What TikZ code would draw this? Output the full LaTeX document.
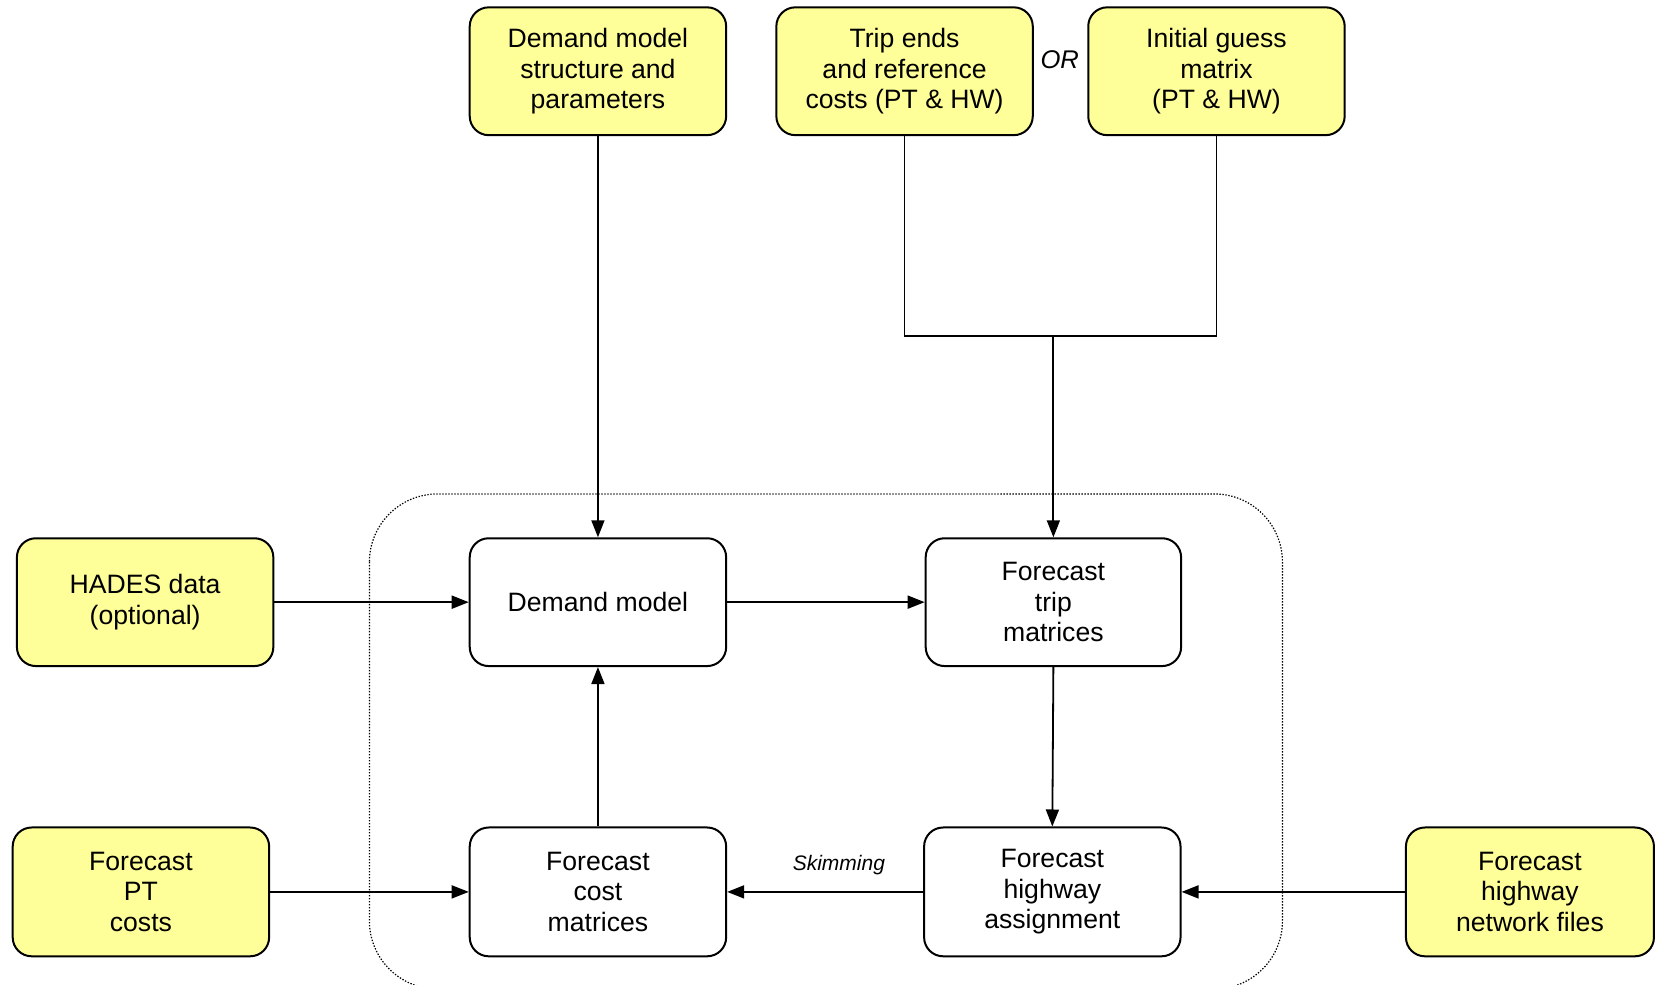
\documentclass[tikz,border=0pt]{standalone}
\usepackage{fontspec}
\setmainfont{Liberation Sans}
\usetikzlibrary{arrows.meta}
\definecolor{boxyellow}{RGB}{255,255,153}
\tikzset{
  basebox/.style={draw=black, line width=1pt, rounded corners=9.5pt, inner sep=0pt,
    minimum width=128.2pt, minimum height=63.9pt, align=center,
    font=\fontsize{13.3pt}{15.3pt}\selectfont},
  ybox/.style={basebox, fill=boxyellow},
  wbox/.style={basebox, fill=white},
  conn/.style={draw=black, line width=0.9pt},
  arr/.style={conn, -{Triangle[length=8.5pt,width=6.5pt]}},
  lbl/.style={font=\fontsize{10.5pt}{12pt}\selectfont\itshape, inner sep=0pt}
}
\begin{document}
\begin{tikzpicture}[x=0.5277pt, y=-0.5277pt]
\useasboundingbox (0,0) rectangle (1568,933);
% dotted enclosure
\draw[line width=0.6pt, dash pattern=on 0.7pt off 0.8pt, rounded corners=34pt] (350,468) rectangle (1215,937);
% top inputs
\node[ybox] (dms) at (566.5,67.5) {Demand model\\structure and\\parameters};
\node[ybox] (te) at (857,67.5) {Trip ends\\and reference\\costs (PT \& HW)};
\node[ybox] (ig) at (1152.5,67.5) {Initial guess\\matrix\\(PT \& HW)};
\node[font=\fontsize{12.8pt}{14pt}\selectfont\itshape, inner sep=0pt] (or) at (1004,57) {OR};
% middle row
\node[ybox] (hades) at (137.5,570.5) {HADES data\\(optional)};
\node[wbox] (dm) at (566.5,570.5) {Demand model};
\node[wbox, minimum width=127.7pt] (ftm) at (998,570.5) {Forecast\\trip\\matrices};
% bottom row
\node[ybox, minimum height=64.4pt] (fpt) at (133.5,845) {Forecast\\PT\\costs};
\node[wbox, minimum height=64.4pt] (fcm) at (566.5,845) {Forecast\\cost\\matrices};
\node[wbox, minimum height=64.4pt] (fha) at (997,845) {Forecast\\highway\\assignment};
\node[ybox, minimum height=64.4pt, minimum width=124pt] (fhn) at (1449.5,845) {Forecast\\highway\\network files};
% connectors
\coordinate (jn) at (998,318);
\draw[arr] (dms.south) -- (dm.north);
\draw[conn] (te.south) |- (jn) -| (ig.south);
\draw[arr] (jn) -- (ftm.north);
\draw[arr] (hades.east) -- (dm.west);
\draw[arr] (dm.east) -- (ftm.west);
\draw[arr] (ftm.south) -- (fha.north);
\draw[arr] (fhn.west) -- (fha.east);
\draw[arr] (fha.west) -- node[lbl, above=8pt, pos=0.43] (skim) {Skimming} (fcm.east);
\draw[arr] (fpt.east) -- (fcm.west);
\draw[arr] (fcm.north) -- (dm.south);
\end{tikzpicture}
\end{document}
